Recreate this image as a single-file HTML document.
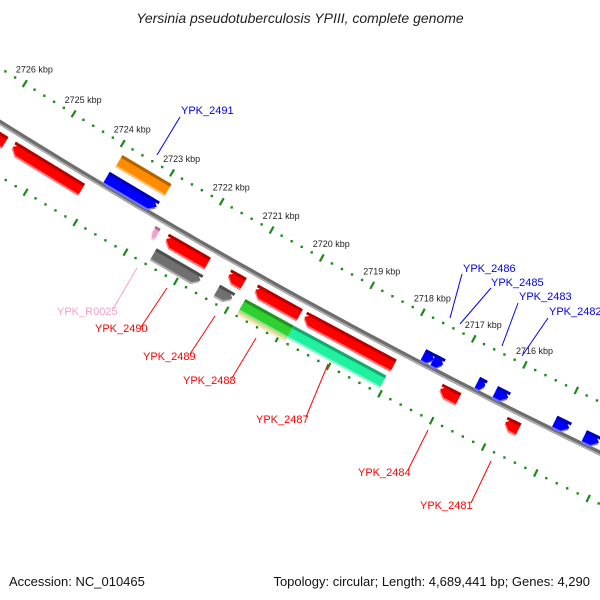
<!DOCTYPE html>
<html><head><meta charset="utf-8"><style>
html,body{margin:0;padding:0;background:#fff;}
svg{display:block;font-family:"Liberation Sans",sans-serif;}
</style></head><body>
<svg id="c" width="600" height="600" viewBox="0 0 600 600">
<text x="300" y="23" text-anchor="middle" font-size="14" font-style="italic" fill="#222">Yersinia pseudotuberculosis YPIII, complete genome</text>
<text x="9" y="586" font-size="13" fill="#111">Accession: NC_010465</text>
<text x="590" y="586" text-anchor="end" font-size="13" fill="#111">Topology: circular; Length: 4,689,441 bp; Genes: 4,290</text>
<g id="ticks"></g><g id="bb"></g><g id="feat"></g><g id="labs"></g>
</svg>
<script>
// data
const tickKbp=[2714,2715,2716,2717,2718,2719,2720,2721,2722,2723,2724,2725,2726,2727];
const labelKbp=[2716,2717,2718,2719,2720,2721,2722,2723,2724,2725,2726];
// features: [start kbp, end kbp, track, color, direction]
const featStart=[2725.6,2726.3,2726.3,2723.9,2723.94,2717.65,2717.46,2716.6,2716.25,2715.1,2714.53,2722.51,2722.57,2722.78,2721.27,2721.31,2720.74,2720.81,2720.81,2719.77,2719.86,2717.12,2715.86];
const featEnd=  [2724.2,2725.75,2725.8,2722.91,2722.93,2717.45,2717.27,2716.45,2716.0,2714.82,2714.25,2721.68,2721.64,2722.68,2720.97,2721.01,2719.86,2719.86,2719.86,2718.02,2718.05,2716.76,2715.6];
const featTrack=['L1','L1','L2','U2','U1','U1','U1','U1','U1','U1','U1','L1','L2','L1','L1','L2','L1','L3','L2','L1','L2','L1','L1'];
const featColor=['#ff0000','#ff0000','#00c8c8','#ff8c00','#0000ff','#0000ff','#0000ff','#0000ff','#0000ff','#0000ff','#0000ff','#ff0000','#707070','#f4a0c8','#ff0000','#707070','#ff0000','#e8d890','#30d030','#ff0000','#20f0a0','#ff0000','#ff0000'];
const featDir=['L','L','R','N','R','R','R','R','R','R','R','L','R','L','L','R','L','N','N','L','N','L','L'];
const upLabels=['YPK_2491','YPK_2486','YPK_2485','YPK_2483','YPK_2482'];
const loLabels=['YPK_R0025','YPK_2490','YPK_2489','YPK_2488','YPK_2487','YPK_2484','YPK_2481'];

const CX=3303,CY=-5160,RB=6230,RU=6184,RL=6276;
const A0=Math.atan2(173-CY,172-CX),K=57.4/6184;
function P(kbp,d){const a=A0+(kbp-2723)*K,r=RB+d;return [CX+r*Math.cos(a),CY+r*Math.sin(a)];}
const NS='http://www.w3.org/2000/svg';
function mk(tag,parent,attrs){const e=document.createElementNS(NS,tag);for(const k in attrs)e.setAttribute(k,attrs[k]);parent.appendChild(e);return e;}
const gT=document.getElementById('ticks'),gB=document.getElementById('bb'),gF=document.getElementById('feat'),gL=document.getElementById('labs');

// tick lines
[RU-RB,RL-RB].forEach((d,li)=>{
  for(let k=2713;k<=2728.001;k+=0.2){
    const kk=Math.round(k*10)/10;
    if(tickKbp.includes(Math.round(kk))&&Math.abs(kk-Math.round(kk))<0.01){
      const a=P(kk,d-4),b=P(kk,d+4);
      const l=mk('line',gT,{x1:a[0],y1:a[1],x2:b[0],y2:b[1],stroke:'#1a8a1a','stroke-width':2.2});
      
      
    }else{
      const p=P(kk,d);
      const c=mk('rect',gT,{x:p[0]-1.2,y:p[1]-1.2,width:2.4,height:2.4,fill:'#1a8a1a'});
      
      
    }
  }
});
labelKbp.forEach(k=>{
  const p=P(k,RU-RB);
  const t=mk('text',gT,{x:p[0]-9,y:p[1]-11,'font-size':9,fill:'#222'});
  t.textContent=k+' kbp';
  
  
});

// backbone
function arc(d){let s='';for(let k=2729;k>=2712;k-=0.25){const p=P(k,d);s+=(s?'L':'M')+p[0].toFixed(1)+','+p[1].toFixed(1);}return s;}
const bb1=mk('path',gB,{d:arc(0),stroke:'#6e6e6e','stroke-width':5,fill:'none'});


const bb2=mk('path',gB,{d:arc(1.5),stroke:'#b0b0b0','stroke-width':1.5,fill:'none'});



// features
const trackD={U2:[-36,-24],U1:[-15,-3],L1:[8,20],L2:[27,39],L3:[31,43]};
function shade(hex,f){const n=parseInt(hex.slice(1),16);let r=n>>16,g=(n>>8)&255,b=n&255;
  if(f<1){r*=f;g*=f;b*=f;}else{r=r+(255-r)*(f-1);g=g+(255-g)*(f-1);b=b+(255-b)*(f-1);}
  return 'rgb('+[r,g,b].map(v=>Math.round(v)).join(',')+')';}
function body(s,e,d1,d2,dir){
  const ah=Math.min(0.12,(s-e)*0.45),dm=(d1+d2)/2;let pts=[];
  if(dir==='L'){pts=[P(s,dm),P(s-ah,d1),P(e,d1),P(e,d2),P(s-ah,d2)];}
  else if(dir==='R'){pts=[P(s,d1),P(e+ah,d1),P(e,dm),P(e+ah,d2),P(s,d2)];}
  else pts=[P(s,d1),P(e,d1),P(e,d2),P(s,d2)];
  return pts.map(p=>p[0].toFixed(1)+','+p[1].toFixed(1)).join(' ');
}
for(let i=0;i<featStart.length;i++){
  const [d1,d2]=trackD[featTrack[i]],s=featStart[i],e=featEnd[i],col=featColor[i],dir=featDir[i];
  const g=mk('g',gF,{});
  
  
  mk('polygon',g,{points:body(s,e,d1+2,d2+2,dir),fill:shade(col,1.45)});
  mk('polygon',g,{points:body(s,e,d1,d2,dir),fill:col});
  mk('polygon',g,{points:body(s,e,d1,d1+3,dir==='N'?'N':'N'),fill:shade(col,0.7)});
}

// labels
const upPos=[[181,114,157,155,180,117],[463,272,450,318,462,274],[491,286,460,324,491,288],[519,300,502,346,518,303],[549,315,522,356,548,318]];
const loPos=[[57,315,113,309,137,268],[95,332,141,327,167,288],[143,360,190,354,215,316],[183,384,232,378,256,338],[256,423,306,417,328,364],[358,476,408,470,428,430],[420,509,471,503,491,461]];
upLabels.forEach((n,i)=>{const q=upPos[i];
  const l=mk('line',gL,{x1:q[2],y1:q[3],x2:q[4],y2:q[5],stroke:'#0000ff','stroke-width':1});
  
  
  const t=mk('text',gL,{x:q[0],y:q[1],'font-size':11,fill:'#0000ff'});t.textContent=n;
  
  
});
loLabels.forEach((n,i)=>{const q=loPos[i],c=i===0?'#f4a0c8':'#ff0000';
  const l=mk('line',gL,{x1:q[2],y1:q[3],x2:q[4],y2:q[5],stroke:c,'stroke-width':1});
  
  
  const t=mk('text',gL,{x:q[0],y:q[1],'font-size':11,fill:c});t.textContent=n;
  
  
});
</script>
</body></html>
